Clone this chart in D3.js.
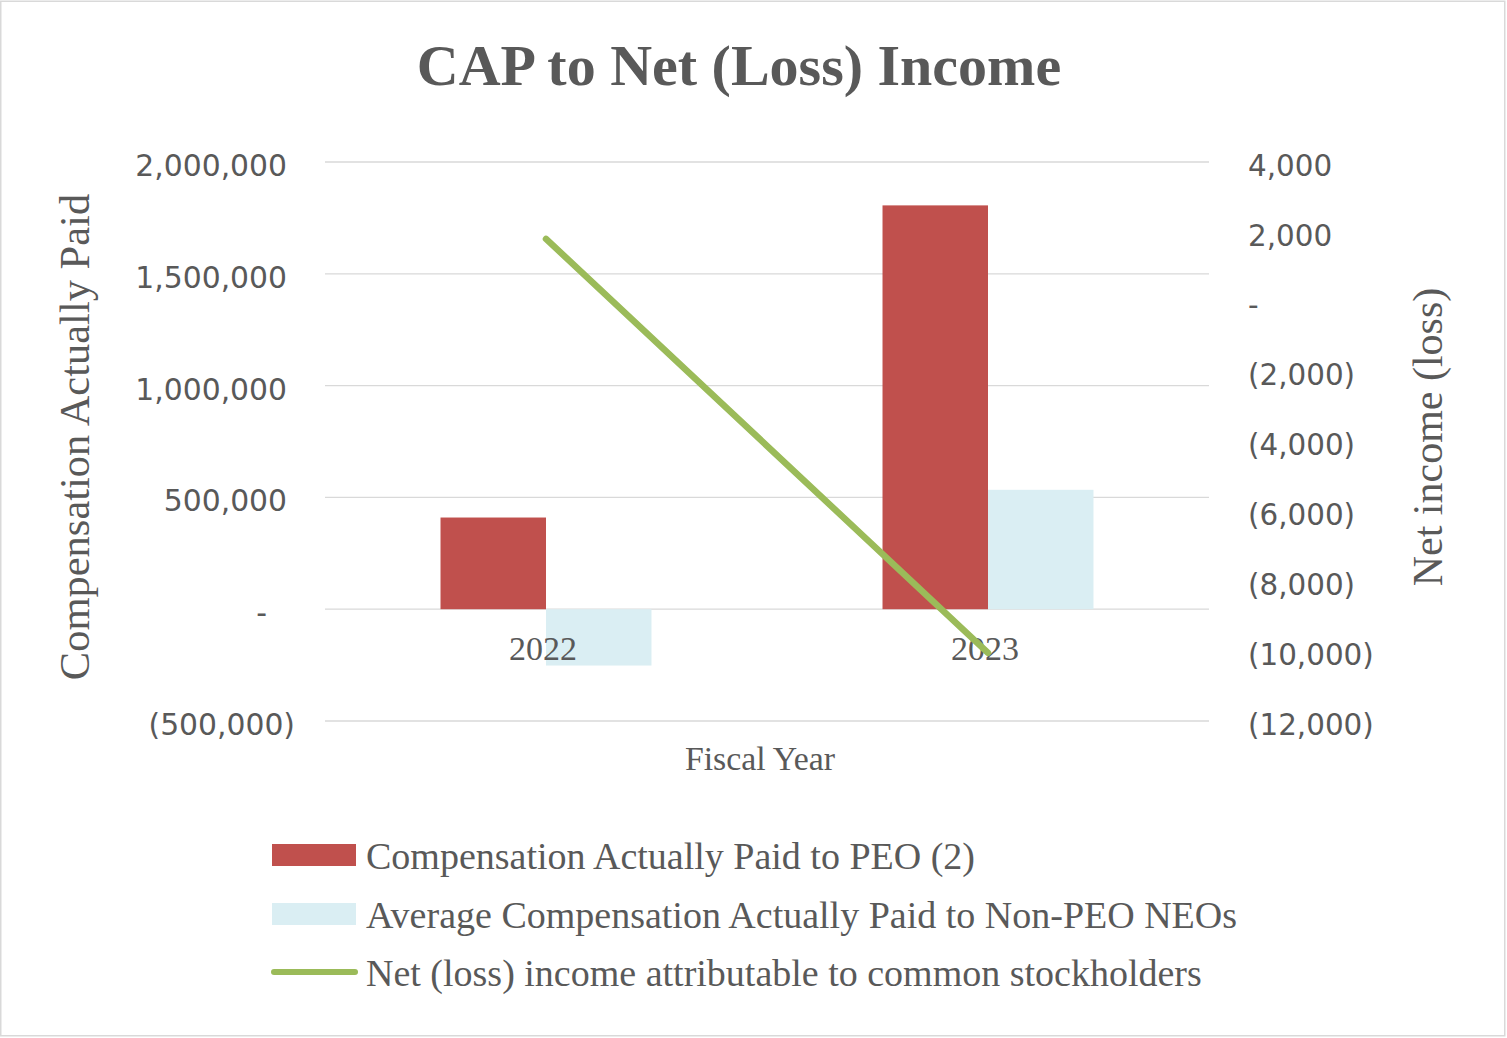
<!DOCTYPE html>
<html>
<head>
<meta charset="utf-8">
<script src="https://cdn.jsdelivr.net/npm/d3@7"></script>
<style>
  html, body { margin: 0; padding: 0; background: #ffffff; }
  svg { display: block; }
</style>
</head>
<body>
<script>
// ---------- data ----------
const categories = ["2022", "2023"];
const seriesNames = [
  "Compensation Actually Paid to PEO (2)",
  "Average Compensation Actually Paid to Non-PEO NEOs",
  "Net (loss) income attributable to common stockholders"
];
const peoValues = [410000, 1806000];
const nonPeoValues = [-252000, 534000];
const netIncomeValues = [1800, -10050];
const leftTicks = [-500000, 0, 500000, 1000000, 1500000, 2000000];
const rightTicks = [-12000, -10000, -8000, -6000, -4000, -2000, 0, 2000, 4000];
const titleText = "CAP to Net (Loss) Income";
const leftAxisTitle = "Compensation Actually Paid";
const rightAxisTitle = "Net income (loss)";
const xAxisTitle = "Fiscal Year";

// ---------- style / layout ----------
const W = 1507, H = 1038;
const plot = { left: 325, right: 1209, top: 162, bottom: 721 };
const colors = { peo: "#C0504D", nonPeo: "#DAEEF3", line: "#9BBB59", text: "#595959", grid: "#D9D9D9" };
const serif = "'Liberation Serif', 'Times New Roman', serif";
const sans = "'DejaVu Sans', Verdana, sans-serif";

const svg = d3.select("body").append("svg").attr("width", W).attr("height", H);

// outer border
svg.append("rect")
  .attr("x", 0.75).attr("y", 1.25).attr("width", W - 3).attr("height", H - 3.5)
  .attr("fill", "#ffffff").attr("stroke", colors.grid).attr("stroke-width", 1.5);

// scales
const x = d3.scaleBand().domain(categories).range([plot.left, plot.right]).padding(0);
const xs = d3.scaleBand().domain(["peo", "nonPeo"]).range([0, x.bandwidth()]).paddingInner(0).paddingOuter(1.095);
const yL = d3.scaleLinear().domain([-500000, 2000000]).range([plot.bottom, plot.top]);
const yR = d3.scaleLinear().domain([-12000, 4000]).range([plot.bottom, plot.top]);

// title
svg.append("text")
  .attr("x", 739).attr("y", 85)
  .attr("text-anchor", "middle")
  .attr("font-family", serif).attr("font-weight", "bold").attr("font-size", 58)
  .attr("fill", colors.text)
  .text(titleText);

// gridlines
svg.append("g").selectAll("line").data(leftTicks).join("line")
  .attr("x1", plot.left).attr("x2", plot.right)
  .attr("y1", d => yL(d)).attr("y2", d => yL(d))
  .attr("stroke", colors.grid).attr("stroke-width", 1.3);

// bars
const barSeries = [
  { key: "peo", values: peoValues, color: colors.peo },
  { key: "nonPeo", values: nonPeoValues, color: colors.nonPeo }
];
barSeries.forEach(s => {
  svg.append("g").selectAll("rect").data(categories).join("rect")
    .attr("x", (c) => x(c) + xs(s.key))
    .attr("width", xs.bandwidth())
    .attr("y", (c, i) => Math.min(yL(s.values[i]), yL(0)))
    .attr("height", (c, i) => Math.abs(yL(s.values[i]) - yL(0)))
    .attr("fill", s.color);
});

// category labels
svg.append("g").selectAll("text").data(categories).join("text")
  .attr("x", c => x(c) + x.bandwidth() / 2 - 3)
  .attr("y", 660)
  .attr("text-anchor", "middle")
  .attr("font-family", serif).attr("font-size", 34)
  .attr("fill", colors.text)
  .text(c => c);

// line
const line = d3.line()
  .x((d, i) => x(categories[i]) + x.bandwidth() / 2)
  .y(d => yR(d));
svg.append("path")
  .datum(netIncomeValues)
  .attr("d", line)
  .attr("fill", "none")
  .attr("stroke", colors.line).attr("stroke-width", 6.5)
  .attr("stroke-linecap", "round");

// accounting formatter
const fmtAcct = v => v === 0 ? "-" : (v < 0 ? "(" + d3.format(",")(-v) + ")" : d3.format(",")(v));

// left axis
const gL = svg.append("g").attr("transform", `translate(${plot.left},0)`)
  .call(d3.axisLeft(yL).tickValues(leftTicks).tickSize(0).tickPadding(38).tickFormat(fmtAcct));
gL.select(".domain").remove();
gL.selectAll("text")
  .attr("font-family", sans).attr("font-size", 29.8).attr("fill", colors.text)
  .attr("dy", "0.45em")
  .attr("x", d => d < 0 ? -30 : (d === 0 ? -58 : -38));

// right axis
const gR = svg.append("g").attr("transform", `translate(${plot.right},0)`)
  .call(d3.axisRight(yR).tickValues(rightTicks).tickSize(0).tickPadding(39).tickFormat(fmtAcct));
gR.select(".domain").remove();
gR.selectAll("text")
  .attr("font-family", sans).attr("font-size", 29.4).attr("fill", colors.text)
  .attr("dy", "0.45em");

// axis titles
svg.append("text")
  .attr("transform", "translate(89,437) rotate(-90)")
  .attr("text-anchor", "middle")
  .attr("font-family", serif).attr("font-size", 42.5).attr("fill", colors.text)
  .text(leftAxisTitle);
svg.append("text")
  .attr("transform", "translate(1442,437) rotate(-90)")
  .attr("text-anchor", "middle")
  .attr("font-family", serif).attr("font-size", 42).attr("fill", colors.text)
  .text(rightAxisTitle);
svg.append("text")
  .attr("x", 760).attr("y", 770)
  .attr("text-anchor", "middle")
  .attr("font-family", serif).attr("font-size", 33.8).attr("fill", colors.text)
  .text(xAxisTitle);

// legend
const legendRows = [855, 914, 972];
const lg = svg.append("g");
lg.append("rect").attr("x", 272).attr("y", legendRows[0] - 11).attr("width", 84).attr("height", 22).attr("fill", colors.peo);
lg.append("rect").attr("x", 272).attr("y", legendRows[1] - 11).attr("width", 84).attr("height", 22).attr("fill", colors.nonPeo);
lg.append("line").attr("x1", 274).attr("x2", 355).attr("y1", legendRows[2]).attr("y2", legendRows[2])
  .attr("stroke", colors.line).attr("stroke-width", 6).attr("stroke-linecap", "round");
lg.selectAll("text").data(seriesNames).join("text")
  .attr("x", 366)
  .attr("y", (d, i) => legendRows[i] + 14)
  .attr("font-family", serif).attr("font-size", 38).attr("fill", colors.text)
  .text(d => d);
</script>
</body>
</html>
